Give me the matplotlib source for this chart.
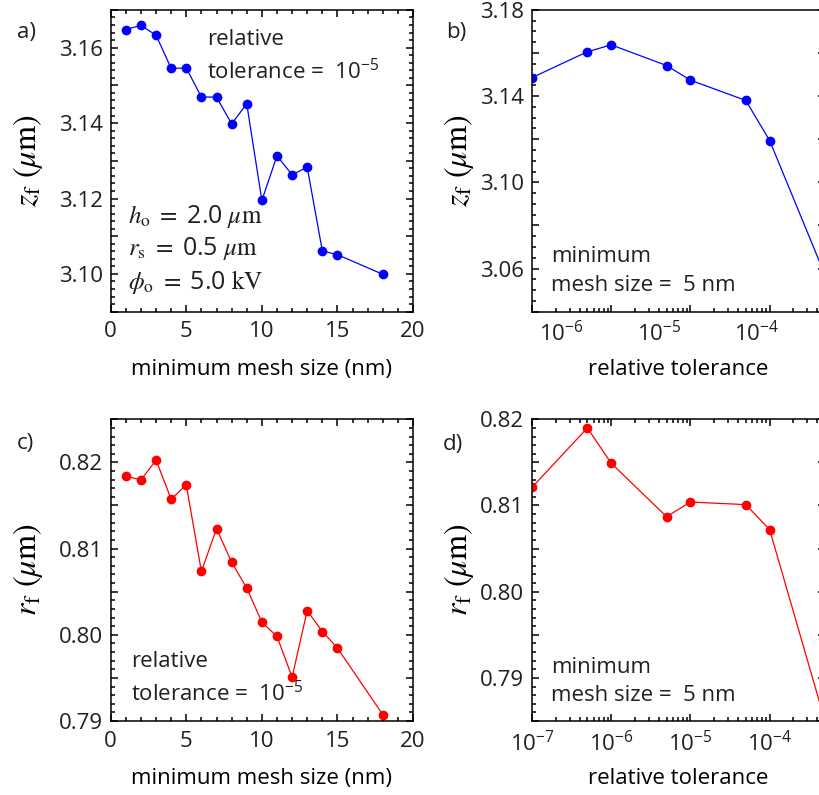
import numpy as np
import matplotlib
matplotlib.use('Agg')
import matplotlib.pyplot as plt
from matplotlib.ticker import MultipleLocator, FuncFormatter, LogLocator, NullFormatter

plt.rcParams['font.family'] = ['Open Sans', 'DejaVu Sans']
plt.rcParams['mathtext.fontset'] = 'stix'
plt.rcParams['text.color'] = '#231f20'
plt.rcParams['xtick.labelcolor'] = '#231f20'
plt.rcParams['ytick.labelcolor'] = '#231f20'

# convergence vs. minimum mesh size (relative tolerance 1e-5)
mesh_size = [1, 2, 3, 4, 5, 6, 7, 8, 9, 10, 11, 12, 13, 14, 15, 18]
zf_mesh = [3.1648, 3.1659, 3.1633, 3.1545, 3.1546, 3.1469, 3.1469, 3.1398,
           3.1451, 3.1195, 3.1313, 3.1263, 3.1283, 3.1061, 3.1051, 3.0999]
rf_mesh = [0.81842, 0.81796, 0.82027, 0.81573, 0.81738, 0.80735, 0.81231, 0.80842,
           0.80542, 0.80146, 0.79981, 0.79508, 0.80281, 0.80038, 0.79846, 0.79073]

# convergence vs. relative tolerance (minimum mesh size 5 nm)
tolerance = [1e-7, 5e-7, 1e-6, 5e-6, 1e-5, 5e-5, 1e-4, 5e-4]
zf_tol = [3.1486, 3.1606, 3.1638, 3.1542, 3.1474, 3.1380, 3.1194, 3.0570]
rf_tol = [0.8121, 0.8190, 0.8149, 0.8087, 0.8104, 0.8101, 0.8072, 0.7850]

# labelled y ticks
zf_mesh_ticks = [3.10, 3.12, 3.14, 3.16]
zf_tol_ticks = [3.06, 3.10, 3.14, 3.18]
rf_ticks = [0.79, 0.80, 0.81, 0.82]

BLUE = '#0000ff'
RED = '#ff0000'


def label_only(values):
    def fmt(v, pos):
        for t in values:
            if abs(v - t) < 1e-9:
                return '%.2f' % t
        return ''
    return FuncFormatter(fmt)


def style(ax):
    ax.tick_params(which='both', direction='in', top=True, right=True,
                   labelsize=16, width=1.1, color='black')
    ax.tick_params(which='major', length=5)
    ax.tick_params(which='minor', length=2.6)
    ax.tick_params(axis='x', pad=7)
    ax.tick_params(axis='y', pad=5.5)
    for s in ax.spines.values():
        s.set_linewidth(1.1)


fig = plt.figure(figsize=(8.2, 7.95), dpi=100)
ax_a = fig.add_axes([0.135, 0.608, 0.3687, 0.3795])
ax_b = fig.add_axes([0.6488, 0.608, 0.3573, 0.3795])
ax_c = fig.add_axes([0.135, 0.0931, 0.3687, 0.3795])
ax_d = fig.add_axes([0.6488, 0.0931, 0.3573, 0.3795])

ylab_kw = dict(fontsize=23, math_fontfamily='stix')
serif_kw = dict(fontsize=18, family='Open Sans', math_fontfamily='stix')
note_kw = dict(va='baseline', fontsize=16, linespacing=1.45)

# a) z_f vs mesh size
ax_a.plot(mesh_size, zf_mesh, '-o', color=BLUE, lw=0.9, ms=6)
ax_a.set_xlim(0, 20)
ax_a.set_ylim(3.09, 3.17)
ax_a.xaxis.set_major_locator(MultipleLocator(5))
ax_a.xaxis.set_minor_locator(MultipleLocator(1))
ax_a.yaxis.set_major_locator(MultipleLocator(0.01))
ax_a.yaxis.set_minor_locator(MultipleLocator(0.002))
ax_a.yaxis.set_major_formatter(label_only(zf_mesh_ticks))
ax_a.set_xlabel('minimum mesh size (nm)', fontsize=16, labelpad=12)
ax_a.set_ylabel(r'$z_\mathrm{f}\ (\mu\mathrm{m})$', labelpad=10, **ylab_kw)
ax_a.text(0.319, 0.7695, 'relative\ntolerance =  $\\mathregular{10^{-5}}$',
          transform=ax_a.transAxes, **note_kw)
ax_a.text(0.057, 0.076,
          '$h_\\mathrm{o}\\ =\\ \\mathregular{2.0}\\ \\mu\\mathrm{m}$\n'
          '$r_\\mathrm{s}\\ =\\ \\mathregular{0.5}\\ \\mu\\mathrm{m}$\n'
          '$\\phi_\\mathrm{o}\\ =\\ \\mathregular{5.0}\\ \\mathrm{kV}$',
          transform=ax_a.transAxes, va='baseline', linespacing=1.25, **serif_kw)
style(ax_a)

# b) z_f vs relative tolerance
ax_b.plot(tolerance, zf_tol, '-o', color=BLUE, lw=0.9, ms=6)
ax_b.set_xscale('log')
ax_b.set_xlim(1e-7, 5e-4)
ax_b.set_ylim(3.04, 3.18)
ax_b.xaxis.set_minor_locator(LogLocator(subs=np.arange(2, 10)))
ax_b.yaxis.set_major_locator(MultipleLocator(0.02))
ax_b.yaxis.set_minor_locator(MultipleLocator(0.005))
ax_b.yaxis.set_major_formatter(label_only(zf_tol_ticks))
ax_b.set_ylabel(r'$z_\mathrm{f}\ (\mu\mathrm{m})$', labelpad=3, **ylab_kw)
ax_b.text(0.064, 0.0696, 'minimum\nmesh size =  5 nm',
          transform=ax_b.transAxes, **note_kw)
style(ax_b)
ax_b.tick_params(axis='x', labelbottom=False)

# decade labels for b are laid out on their own scale
lab_b = ax_b.twiny()
lab_b.set_xscale('log')
lab_b.set_xlim(5e-7, 5e-4)
lab_b.xaxis.set_ticks_position('bottom')
lab_b.xaxis.set_label_position('bottom')
lab_b.xaxis.set_minor_formatter(NullFormatter())
lab_b.tick_params(which='both', length=0, pad=7, labelsize=16)
for s in lab_b.spines.values():
    s.set_visible(False)
lab_b.set_xlabel('relative tolerance', fontsize=16, labelpad=9)

# c) r_f vs mesh size
ax_c.plot(mesh_size, rf_mesh, '-o', color=RED, lw=0.9, ms=6)
ax_c.set_xlim(0, 20)
ax_c.set_ylim(0.79, 0.825)
ax_c.xaxis.set_major_locator(MultipleLocator(5))
ax_c.xaxis.set_minor_locator(MultipleLocator(1))
ax_c.yaxis.set_major_locator(MultipleLocator(0.005))
ax_c.yaxis.set_minor_locator(MultipleLocator(0.001))
ax_c.yaxis.set_major_formatter(label_only(rf_ticks))
ax_c.set_xlabel('minimum mesh size (nm)', fontsize=16, labelpad=12)
ax_c.set_ylabel(r'$r_\mathrm{f}\ (\mu\mathrm{m})$', labelpad=10, **ylab_kw)
ax_c.text(0.067, 0.064, 'relative\ntolerance =  $\\mathregular{10^{-5}}$',
          transform=ax_c.transAxes, **note_kw)
style(ax_c)

# d) r_f vs relative tolerance
ax_d.plot(tolerance, rf_tol, '-o', color=RED, lw=0.9, ms=6)
ax_d.set_xscale('log')
ax_d.set_xlim(1e-7, 5e-4)
ax_d.set_ylim(0.785, 0.82)
ax_d.xaxis.set_minor_locator(LogLocator(subs=np.arange(2, 10)))
ax_d.xaxis.set_minor_formatter(NullFormatter())
ax_d.yaxis.set_major_locator(MultipleLocator(0.005))
ax_d.yaxis.set_minor_locator(MultipleLocator(0.001))
ax_d.yaxis.set_major_formatter(label_only(rf_ticks))
ax_d.set_xlabel('relative tolerance', fontsize=16, labelpad=9)
ax_d.set_ylabel(r'$r_\mathrm{f}\ (\mu\mathrm{m})$', labelpad=3, **ylab_kw)
ax_d.text(0.064, 0.066, 'minimum\nmesh size =  5 nm',
          transform=ax_d.transAxes, **note_kw)
style(ax_d)

# panel letters
fig.text(17 / 820, 1 - 38 / 795, 'a)', fontsize=16, va='baseline')
fig.text(446 / 820, 1 - 38 / 795, 'b)', fontsize=16, va='baseline')
fig.text(17 / 820, 1 - 449 / 795, 'c)', fontsize=16, va='baseline')
fig.text(443 / 820, 1 - 450 / 795, 'd)', fontsize=16, va='baseline')

fig.savefig('out.png', dpi=100)
